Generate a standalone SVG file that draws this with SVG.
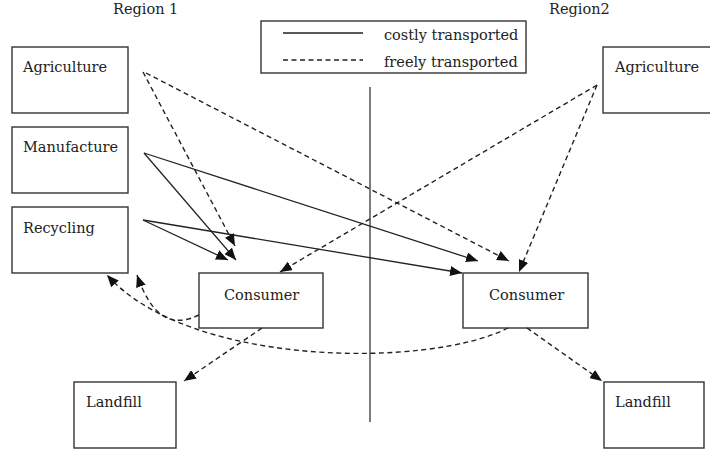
<svg xmlns="http://www.w3.org/2000/svg" width="710" height="454" viewBox="0 0 710 454">
<style>
.box{fill:#fff;stroke:#333;stroke-width:1.4}
.t{font-family:"DejaVu Serif","Liberation Serif",serif;font-size:14.5px;fill:#222}
.s{fill:none;stroke:#222;stroke-width:1.3}
.d{fill:none;stroke:#222;stroke-width:1.4;stroke-dasharray:5 3.5}
</style>
<defs>
<marker id="ah" markerUnits="userSpaceOnUse" markerWidth="14" markerHeight="10" refX="12" refY="5" orient="auto">
<path d="M0,0 L12,5 L0,10 Z" fill="#111"/>
</marker>
</defs>
<rect width="710" height="454" fill="#fff"/>
<text class="t" x="113" y="14">Region 1</text>
<text class="t" x="549" y="14">Region2</text>
<line x1="370" y1="87" x2="370" y2="422" stroke="#444" stroke-width="1.4"/>
<g id="legend">
<rect class="box" x="261" y="21" width="265" height="52"/>
<line class="s" x1="283" y1="33" x2="363" y2="33"/>
<line class="d" x1="283" y1="60" x2="363" y2="60"/>
<text class="t" x="384" y="40">costly transported</text>
<text class="t" x="384" y="67">freely transported</text>
</g>
<g id="agri1"><rect class="box" x="12" y="47" width="116" height="66"/><text class="t" x="23" y="72">Agriculture</text></g>
<g id="manu1"><rect class="box" x="12" y="127" width="116" height="66"/><text class="t" x="23" y="152">Manufacture</text></g>
<g id="recy1"><rect class="box" x="12" y="207" width="116" height="66"/><text class="t" x="23" y="233">Recycling</text></g>
<g id="cons1"><rect class="box" x="199" y="273" width="124" height="55"/><text class="t" x="224" y="300">Consumer</text></g>
<g id="land1"><rect class="box" x="74" y="382" width="102" height="66"/><text class="t" x="86" y="407">Landfill</text></g>
<g id="agri2"><rect class="box" x="603" y="47" width="120" height="66"/><text class="t" x="615" y="72">Agriculture</text></g>
<g id="cons2"><rect class="box" x="463" y="273" width="125" height="55"/><text class="t" x="489" y="300">Consumer</text></g>
<g id="land2"><rect class="box" x="604" y="382" width="100" height="66"/><text class="t" x="615" y="407">Landfill</text></g>
<g id="connectors">
<line class="s" x1="144" y1="153" x2="236" y2="260" marker-end="url(#ah)"/>
<line class="s" x1="144" y1="153" x2="478" y2="261" marker-end="url(#ah)"/>
<line class="s" x1="143" y1="220" x2="228" y2="260" marker-end="url(#ah)"/>
<line class="s" x1="143" y1="220" x2="462" y2="273" marker-end="url(#ah)"/>
<line class="d" x1="143" y1="72" x2="235" y2="246" marker-end="url(#ah)"/>
<line class="d" x1="146" y1="73" x2="509" y2="261" marker-end="url(#ah)"/>
<line class="d" x1="597" y1="85" x2="280" y2="272" marker-end="url(#ah)"/>
<line class="d" x1="597" y1="85" x2="519" y2="272" marker-end="url(#ah)"/>
<line class="d" x1="262" y1="328" x2="184" y2="381" marker-end="url(#ah)"/>
<line class="d" x1="527" y1="328" x2="602" y2="381" marker-end="url(#ah)"/>
<path class="d" d="M199,315 C172,328 152,318 137,275" marker-end="url(#ah)"/>
<path class="d" d="M508,328 C430,368 190,368 107,275" marker-end="url(#ah)"/>
</g>
</svg>
